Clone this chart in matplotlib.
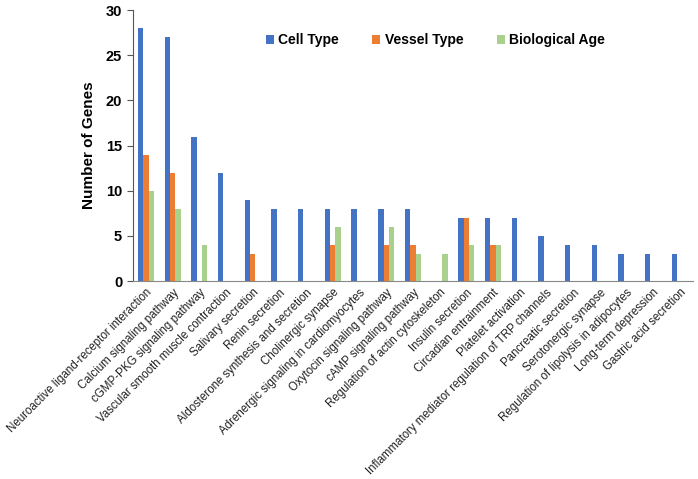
import numpy as np
import matplotlib.pyplot as plt

plt.rcParams['font.family'] = ['Liberation Sans', 'DejaVu Sans']

# data
pathways = [
    'Neuroactive ligand-receptor interaction', 'Calcium signaling pathway',
    'cGMP-PKG signaling pathway', 'Vascular smooth muscle contraction',
    'Salivary secretion', 'Renin secretion', 'Aldosterone synthesis and secretion',
    'Cholinergic synapse', 'Adrenergic signaling in cardiomyocytes',
    'Oxytocin signaling pathway', 'cAMP signaling pathway',
    'Regulation of actin cytoskeleton', 'Insulin secretion', 'Circadian entrainment',
    'Platelet activation', 'Inflammatory mediator regulation of TRP channels',
    'Pancreatic secretion', 'Serotonergic synapse',
    'Regulation of lipolysis in adipocytes', 'Long-term depression',
    'Gastric acid secretion',
]
cell_type = [28, 27, 16, 12, 9, 8, 8, 8, 8, 8, 8, 0, 7, 7, 7, 5, 4, 4, 3, 3, 3]
vessel_type = [14, 12, 0, 0, 3, 0, 0, 4, 0, 4, 4, 0, 7, 4, 0, 0, 0, 0, 0, 0, 0]
bio_age = [10, 8, 4, 0, 0, 0, 0, 6, 0, 6, 3, 3, 4, 4, 0, 0, 0, 0, 0, 0, 0]

fig = plt.figure(figsize=(6.98, 4.79), dpi=100)
ax = fig.add_axes([0.19, 0.413, 0.803, 0.566])

x = np.arange(len(pathways))
w = 0.2
ax.bar(x - w, cell_type, w, color='#4472C4', label='Cell Type')
ax.bar(x, vessel_type, w, color='#ED7D31', label='Vessel Type')
ax.bar(x + w, bio_age, w, color='#A9D18E', label='Biological Age')

ax.set_xlim(-0.5, len(pathways) - 0.5)
ax.set_ylim(0, 30)
ax.set_yticks(range(0, 31, 5))
ax.set_xticks(x)
ax.set_xticklabels(pathways, rotation=45, ha='right', rotation_mode='anchor',
                   fontsize=8.3, color='#222222')
for lbl in ax.get_yticklabels():
    lbl.set_fontweight('bold')
    lbl.set_fontsize(10.5)
ax.tick_params(axis='x', length=0, pad=4)
ax.tick_params(axis='y', length=4, color='#555555')
ax.set_ylabel('Number of Genes', fontsize=11, fontweight='bold', labelpad=7)

for s in ['top', 'right']:
    ax.spines[s].set_visible(False)
ax.spines['left'].set_color('#555555')
ax.spines['bottom'].set_color('#888888')

ax.legend(loc='upper center', bbox_to_anchor=(0.54, 0.96), ncol=3, frameon=False,
          prop={'weight': 'bold', 'size': 10}, handlelength=0.6, handleheight=0.6,
          columnspacing=2.4, handletextpad=0.3)

fig.savefig('out.png', dpi=100)
